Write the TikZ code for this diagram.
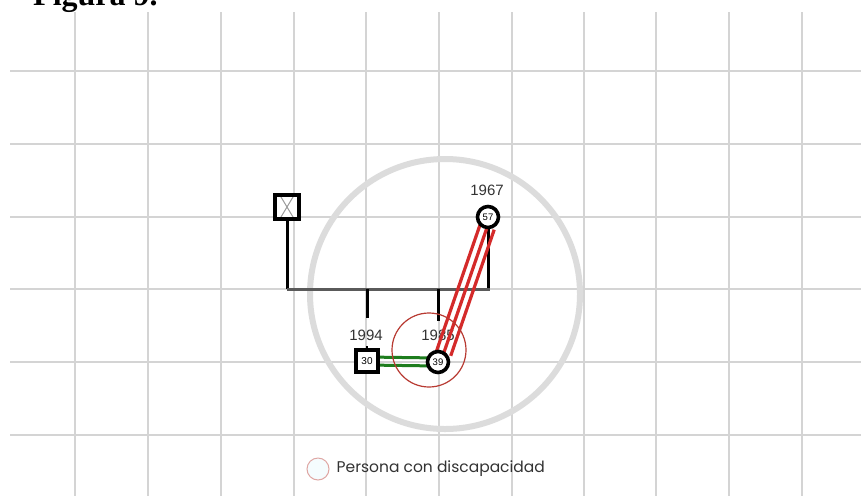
\documentclass[tikz,border=0pt]{standalone}
\usepackage{fontspec}
\setmainfont{Liberation Sans}
\newfontfamily\legfont{Poppins}
\newfontfamily\titlefont{Liberation Serif}
\definecolor{gridc}{HTML}{D4D4D4}
\definecolor{bigc}{HTML}{DCDCDC}
\definecolor{relred}{HTML}{D42A2A}
\definecolor{disred}{HTML}{B83A32}
\definecolor{relgreen}{HTML}{1E7D1E}
\definecolor{barc}{HTML}{5A5A5A}
\tikzset{
  gridline/.style={gridc, line width=1.4},
  malebox/.style={draw=black, fill=white, line width=3.2, rectangle, minimum size=22, inner sep=0pt, font=\fontsize{10}{10}\selectfont},
  femcirc/.style={draw=black, fill=white, line width=3.6, circle, minimum size=21, inner sep=0pt, font=\fontsize{9.5}{10}\selectfont},
  yearlbl/.style={font=\fontsize{15}{15}\selectfont, text=black!80, inner sep=0pt},
  kinline/.style={black, line width=3},
  barline/.style={barc, line width=3},
  redrel/.style={relred, line width=3.2, shorten <=10, shorten >=10},
  greenrel/.style={relgreen, line width=3},
}
\begin{document}
\begin{tikzpicture}[x=1pt,y=-1pt]
\useasboundingbox (0,0) rectangle (861,496);
\clip (0,0) rectangle (861,496);
\fill[white] (0,0) rectangle (861,496);
% grid
\foreach \gx in {75,148,221,294,366,439,512,584,656,729,802}
  \draw[gridline] (\gx,12) -- (\gx,496);
\foreach \gy in {71,144,217,289,362,435}
  \draw[gridline] (10,\gy) -- (861,\gy);
% title
\node[anchor=base west, inner sep=0pt, font=\titlefont\bfseries\fontsize{32}{32}\selectfont] (title) at (33,5) {Figura 9.};
% big household circle
\node[circle, draw=bigc, line width=6, minimum size=270, inner sep=0pt] (house) at (445,294) {};
% coordinates
\coordinate (bl) at (287,289);
\coordinate (br) at (490,289);
\coordinate (c1) at (367,289);
\coordinate (c2) at (438,289);
\coordinate (c1e) at (367,318);
\coordinate (c2e) at (438,321);
\path (287,207) coordinate (fpos) (488,217) coordinate (mpos) (367,361) coordinate (spos) (438,362) coordinate (dpos);
% kinship lines
\draw[kinline] (fpos) -- (fpos|-bl);
\draw[kinline] (mpos) -- (mpos|-br);
\draw[barline] (bl) -- (br);
\draw[kinline] (c1) -- (c1e);
\draw[kinline] (c2) -- (c2e);
\draw[kinline, line width=2] (367,346) -- (spos);
% labels
\node[yearlbl] (ly1) at (366,335) {1994};
\node[yearlbl] (ly2) at (438,335) {1985};
\node[yearlbl] (ly3) at (487,190) {1967};
% relationship lines
\foreach \o in {-5,2.5,10}
  \draw[redrel] ([shift={(0.945*\o,0.326*\o)}]mpos) -- ([shift={(0.945*\o,0.326*\o)}]dpos);
\draw[greenrel] ([yshift=4]spos) -- ([yshift=4]dpos);
\draw[greenrel] ([yshift=-4]spos) -- ([yshift=-4]dpos);
% persons
\node[malebox, minimum size=24, path picture={
  \draw[gray!80, line width=1] ([shift={(3,-3)}]path picture bounding box.north west) -- ([shift={(-3,3)}]path picture bounding box.south east);
  \draw[gray!80, line width=1] ([shift={(-3,-3)}]path picture bounding box.north east) -- ([shift={(3,3)}]path picture bounding box.south west);
}] (f) at (fpos) {};
\node[femcirc] (m) at (mpos) {57};
\node[malebox] (s) at (spos) {30};
\node[femcirc] (d) at (dpos) {39};
% disability marker
\node[circle, draw=disred, line width=1.2, minimum size=74, inner sep=0pt] (dis) at (429,350) {};
% legend
\node[circle, draw=disred!45, fill=cyan!4, line width=1, minimum size=22, inner sep=0pt] (leg) at (318,469) {};
\node[anchor=west, inner sep=0pt, font=\legfont\fontsize{15.5}{15.5}\selectfont, text=black!80] (legtxt) at ([xshift=7]leg.east) {Persona con discapacidad};
\end{tikzpicture}
\end{document}
